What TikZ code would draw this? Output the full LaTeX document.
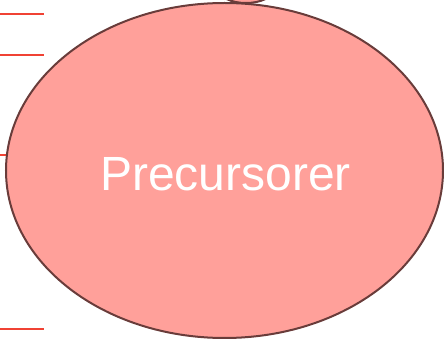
\documentclass[tikz,border=0pt]{standalone}
\usepackage{fontspec}
\setmainfont{Liberation Sans}
\definecolor{fillpink}{RGB}{255,160,154}
\definecolor{edgebrown}{RGB}{105,60,58}
\definecolor{linered}{RGB}{240,66,52}
\tikzset{
  bubble/.style={ellipse, draw=edgebrown, fill=fillpink, line width=2pt, inner sep=0pt},
  tick/.style={draw=linered, line width=2pt},
}
\usetikzlibrary{shapes.geometric}
\begin{document}
\begin{tikzpicture}[x=1pt,y=-1pt]
\useasboundingbox (0,0) rectangle (444,339);
\clip (0,0) rectangle (444,339);
% red lines
\coordinate (l1a) at (0,14); \coordinate (l1b) at (44,14);
\coordinate (l2a) at (0,55); \coordinate (l2b) at (44,55);
\coordinate (l3a) at (0,155); \coordinate (l3b) at (44,155);
\coordinate (l4a) at (0,329); \coordinate (l4b) at (44,329);
\draw[tick] (l1a) -- (l1b);
\draw[tick] (l2a) -- (l2b);
\draw[tick] (l3a) -- (l3b);
\draw[tick] (l4a) -- (l4b);
% top ellipse (cut off)
\node[bubble, minimum width=54pt, minimum height=26pt] (top) at (246,-10) {};
% main ellipse
\node[bubble, minimum width=437pt, minimum height=335pt] (main) at (224.5,170.5) {};
\node[text=white, font=\fontsize{48}{56}\selectfont, anchor=base, inner sep=0pt] (label) at (225.5,190) {Precursorer};
\end{tikzpicture}
\end{document}
